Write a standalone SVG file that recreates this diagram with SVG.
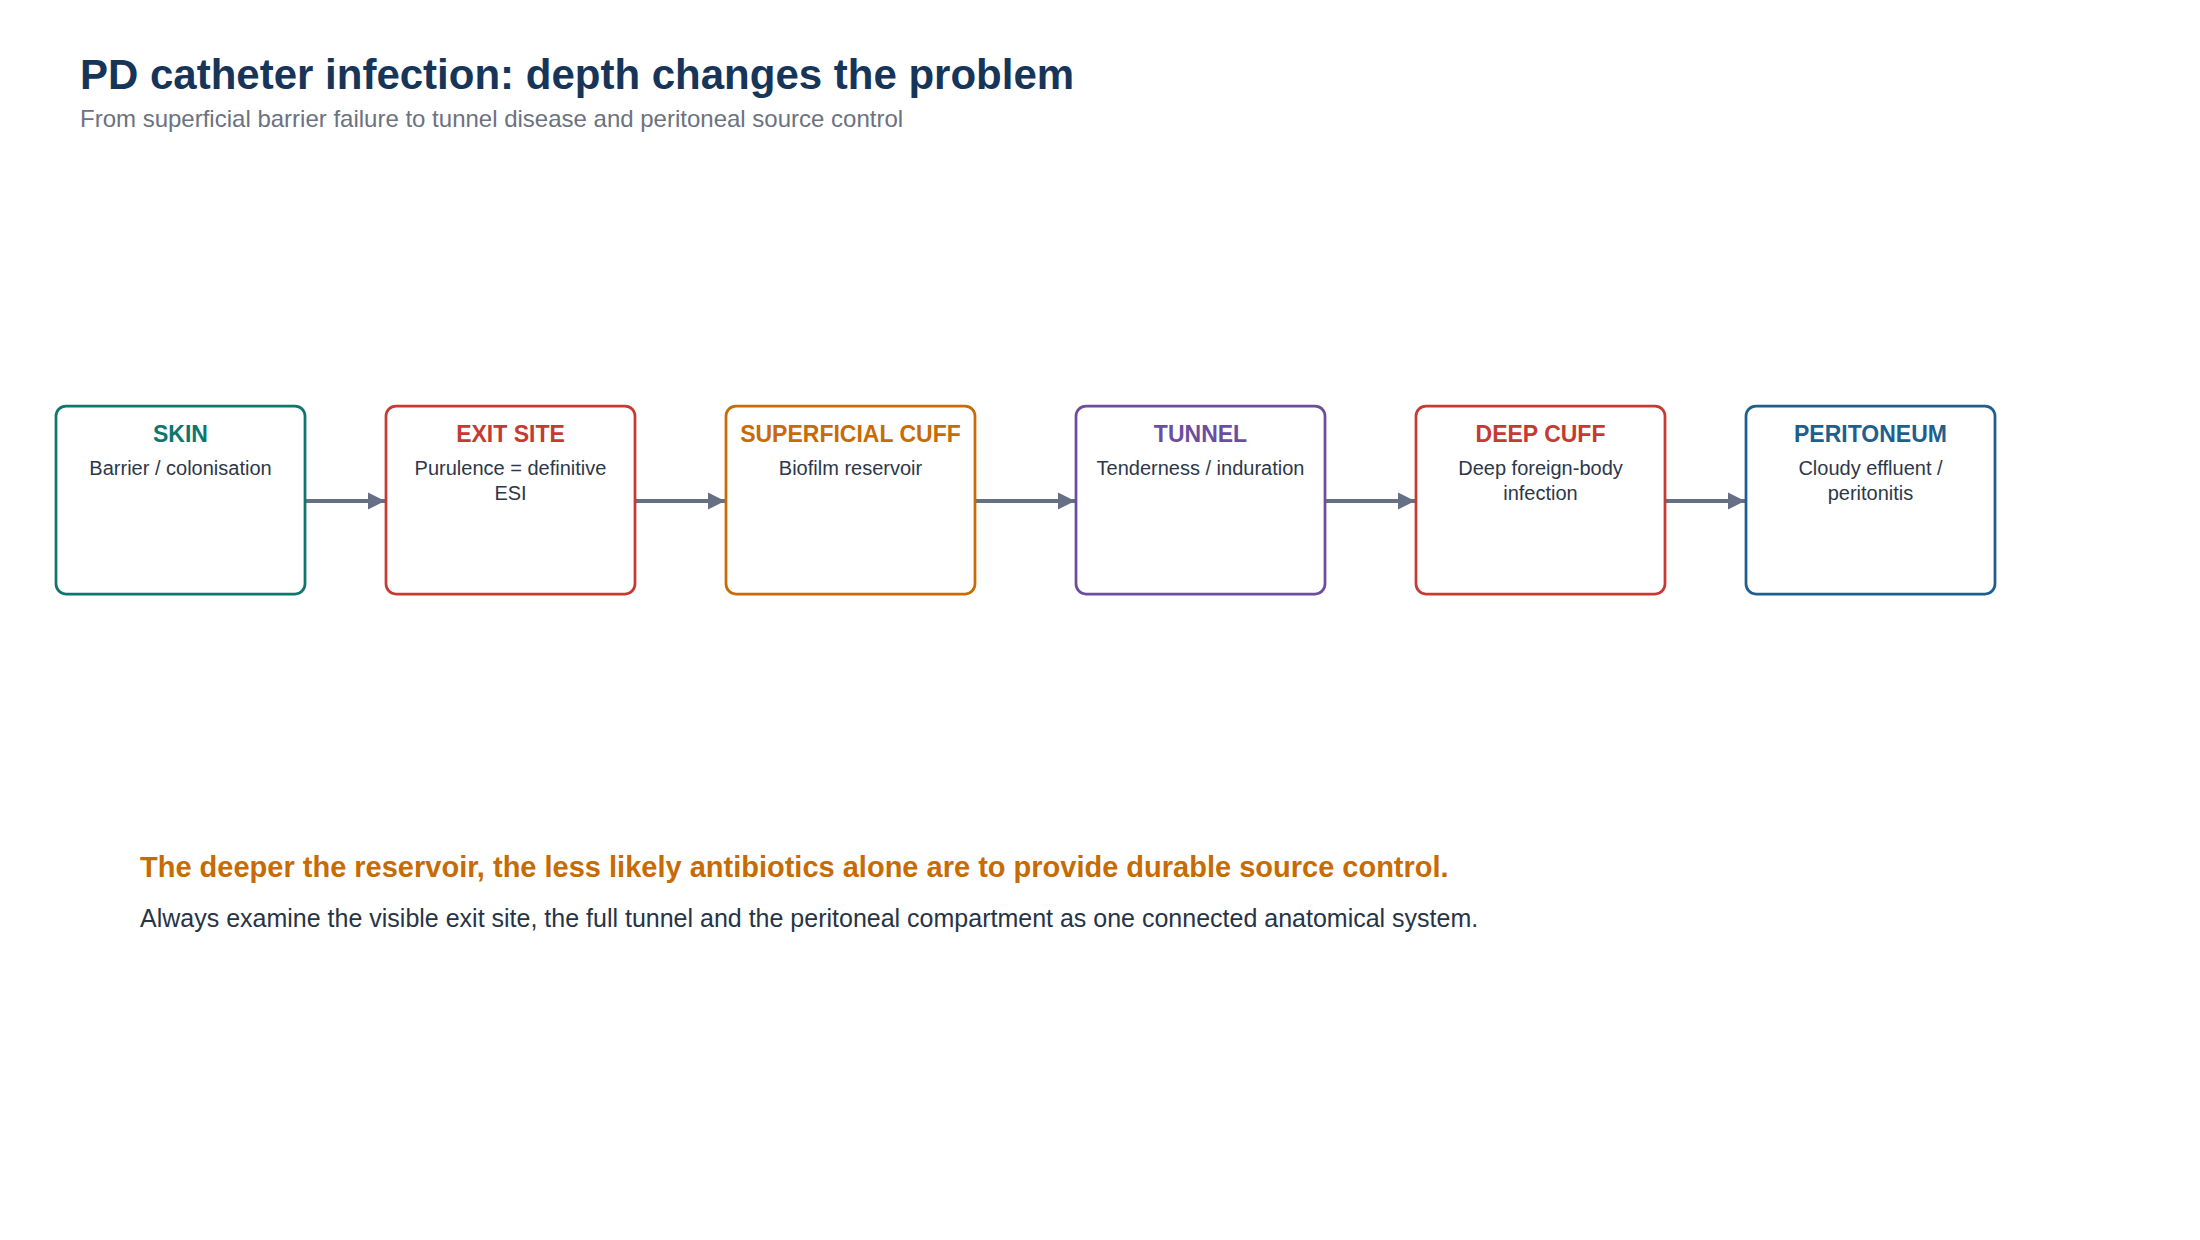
<svg xmlns="http://www.w3.org/2000/svg" width="2200" height="1240" viewBox="0 0 2200 1240">
<defs>
<style>
text{font-family:"Liberation Sans",Arial,Helvetica,sans-serif}
.title{font-size:42px;font-weight:700;fill:#163559}
.sub{font-size:24px;fill:#6b7280}
.box{fill:#ffffff;stroke-width:2.75}
.head{font-size:23px;font-weight:700;text-anchor:middle}
.desc{font-size:20px;fill:#2d3748;text-anchor:middle}
.conn{stroke:#667085;stroke-width:4;fill:none}
.key{font-size:29px;font-weight:700;fill:#c76b05}
.note{font-size:25px;fill:#263445}
</style>
<marker id="arr" viewBox="0 0 10 10" refX="10" refY="5" markerWidth="4.3" markerHeight="4.5" markerUnits="strokeWidth" orient="auto">
<path d="M0,0 L10,5 L0,10 Z" fill="#667085"/>
</marker>
</defs>
<rect width="2200" height="1240" fill="#ffffff"/>
<g id="header">
<text class="title" x="80" y="89">PD catheter infection: depth changes the problem</text>
<text class="sub" x="80" y="127">From superficial barrier failure to tunnel disease and peritoneal source control</text>
</g>
<g id="connectors">
<line class="conn" x1="305" y1="501" x2="385" y2="501" marker-end="url(#arr)"/>
<line class="conn" x1="635" y1="501" x2="725" y2="501" marker-end="url(#arr)"/>
<line class="conn" x1="975" y1="501" x2="1075" y2="501" marker-end="url(#arr)"/>
<line class="conn" x1="1325" y1="501" x2="1415" y2="501" marker-end="url(#arr)"/>
<line class="conn" x1="1665" y1="501" x2="1745" y2="501" marker-end="url(#arr)"/>
</g>
<g id="skin">
<rect class="box" x="56" y="406" width="249" height="188" rx="10" stroke="#0f766e"/>
<text class="head" x="180.5" y="442" fill="#0f766e">SKIN</text>
<text class="desc" x="180.5" y="475">Barrier / colonisation</text>
</g>
<g id="exit-site">
<rect class="box" x="386" y="406" width="249" height="188" rx="10" stroke="#c53a32"/>
<text class="head" x="510.5" y="442" fill="#c53a32">EXIT SITE</text>
<text class="desc" x="510.5" y="475">Purulence = definitive</text>
<text class="desc" x="510.5" y="500">ESI</text>
</g>
<g id="superficial-cuff">
<rect class="box" x="726" y="406" width="249" height="188" rx="10" stroke="#c76b05"/>
<text class="head" x="850.5" y="442" fill="#c76b05">SUPERFICIAL CUFF</text>
<text class="desc" x="850.5" y="475">Biofilm reservoir</text>
</g>
<g id="tunnel">
<rect class="box" x="1076" y="406" width="249" height="188" rx="10" stroke="#6b4f9e"/>
<text class="head" x="1200.5" y="442" fill="#6b4f9e">TUNNEL</text>
<text class="desc" x="1200.5" y="475">Tenderness / induration</text>
</g>
<g id="deep-cuff">
<rect class="box" x="1416" y="406" width="249" height="188" rx="10" stroke="#c53a32"/>
<text class="head" x="1540.5" y="442" fill="#c53a32">DEEP CUFF</text>
<text class="desc" x="1540.5" y="475">Deep foreign-body</text>
<text class="desc" x="1540.5" y="500">infection</text>
</g>
<g id="peritoneum">
<rect class="box" x="1746" y="406" width="249" height="188" rx="10" stroke="#1f5f8e"/>
<text class="head" x="1870.5" y="442" fill="#1f5f8e">PERITONEUM</text>
<text class="desc" x="1870.5" y="475">Cloudy effluent /</text>
<text class="desc" x="1870.5" y="500">peritonitis</text>
</g>
<g id="footer">
<text class="key" x="140" y="877">The deeper the reservoir, the less likely antibiotics alone are to provide durable source control.</text>
<text class="note" x="140" y="927">Always examine the visible exit site, the full tunnel and the peritoneal compartment as one connected anatomical system.</text>
</g>
</svg>
